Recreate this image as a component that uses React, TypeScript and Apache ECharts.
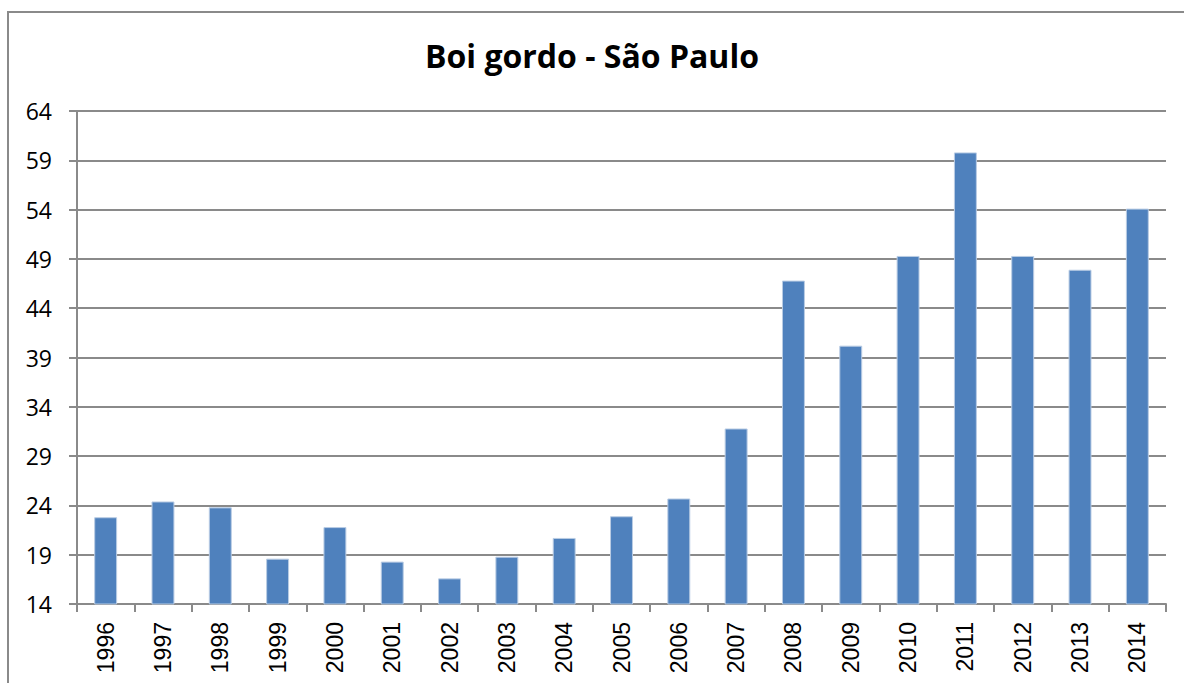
import React, { useEffect, useRef } from "react";
import * as echarts from "echarts";

const years = ["1996","1997","1998","1999","2000","2001","2002","2003","2004","2005","2006","2007","2008","2009","2010","2011","2012","2013","2014"];
const prices = [22.8, 24.4, 23.8, 18.6, 21.8, 18.3, 16.6, 18.8, 20.7, 22.9, 24.7, 31.8, 46.8, 40.2, 49.3, 59.8, 49.3, 47.9, 54.1];
const titleText = "Boi gordo - São Paulo";

export default function App() {
  const ref = useRef<HTMLDivElement>(null);
  useEffect(() => {
    const chart = echarts.init(ref.current!, null, { renderer: "svg" });
    chart.setOption({
      animation: false,
      backgroundColor: "#ffffff",
      title: {
        text: titleText,
        left: "center",
        top: 34,
        textStyle: { fontFamily: "Open Sans", fontWeight: "bold", fontSize: 32, color: "#000" },
      },
      graphic: [
        {
          type: "rect",
          shape: { x: 8, y: 12, width: 1300, height: 800 },
          style: { fill: "none", stroke: "#8a8a8a", lineWidth: 2 },
          silent: true,
        },
      ],
      grid: { left: 77, right: 18, top: 111, bottom: 79 },
      xAxis: {
        type: "category",
        data: years,
        boundaryGap: true,
        axisLine: { lineStyle: { color: "#8a8a8a", width: 2 } },
        axisTick: { show: true, length: 8, lineStyle: { color: "#8a8a8a", width: 2 } },
        axisLabel: {
          rotate: 90,
          margin: 18,
          fontFamily: "Liberation Sans",
          fontSize: 23,
          color: "#000",
        },
      },
      yAxis: {
        type: "value",
        min: 14,
        max: 64,
        interval: 5,
        axisLine: { show: true, lineStyle: { color: "#8a8a8a", width: 2 } },
        axisTick: { show: true, length: 8, lineStyle: { color: "#8a8a8a", width: 2 } },
        splitLine: { show: true, lineStyle: { color: "#8a8a8a", width: 2 } },
        axisLabel: {
          margin: 25,
          fontFamily: "Open Sans",
          fontSize: 23,
          color: "#000",
        },
      },
      series: [
        {
          type: "bar",
          data: prices,
          barWidth: "40%",
          itemStyle: { color: "#4f81bd", borderColor: "#b9cce4", borderWidth: 1 },
        },
      ],
    });
    return () => chart.dispose();
  }, []);
  return <div ref={ref} style={{ position: "fixed", left: 0, top: 0, width: 1184, height: 683 }} />;
}
